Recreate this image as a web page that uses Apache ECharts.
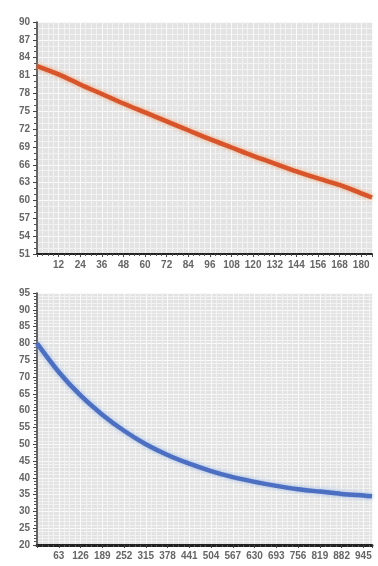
<!DOCTYPE html>
<html>
<head>
<meta charset="utf-8">
<script src="https://cdn.jsdelivr.net/npm/echarts@6/dist/echarts.min.js"></script>
<style>
  html, body { margin: 0; padding: 0; background: #fff; }
  #chart { width: 378px; height: 566px; }
</style>
</head>
<body>
<div id="chart"></div>
<script>
// data
var topX = [0, 12, 24, 36, 48, 60, 72, 84, 96, 108, 120, 132, 144, 156, 168, 180, 186];
var topY = [82.6, 81.2, 79.5, 77.9, 76.3, 74.8, 73.3, 71.8, 70.3, 68.9, 67.5, 66.2, 64.9, 63.7, 62.6, 61.2, 60.5];

var botX = [0, 63, 126, 189, 252, 315, 378, 441, 504, 567, 630, 693, 756, 819, 882, 945, 970];
var botY = [80, 71.5, 64.5, 58.8, 54, 50, 46.8, 44.2, 42, 40.2, 38.8, 37.6, 36.6, 35.9, 35.2, 34.7, 34.5];

function pairs(xs, ys) {
  var out = [];
  for (var i = 0; i < xs.length; i++) {
    out.push([xs[i], ys[i]]);
  }
  return out;
}

// shared axis look
var labelStyle = { color: '#666', fontSize: 10, fontFamily: 'Liberation Sans', fontWeight: 'bold' };

function xAxisOf(grid, max, step, lineW) {
  return {
    type: 'value', gridIndex: grid, min: 0, max: max, interval: step,
    axisLine: { show: true, lineStyle: { color: '#222', width: lineW } },
    axisTick: { show: true, length: 3, lineStyle: { color: '#444' } },
    minorTick: { show: true, splitNumber: 4, length: 2, lineStyle: { color: '#555' } },
    splitLine: { show: true, lineStyle: { color: '#fafafa', width: 1 } },
    minorSplitLine: { show: true, lineStyle: { color: '#f2f2f2', width: 1 } },
    axisLabel: Object.assign({ margin: 6, showMaxLabel: false,
      formatter: function (v) { return v === 0 ? '' : v; } }, labelStyle)
  };
}

function yAxisOf(grid, min, max, step, minor) {
  return {
    type: 'value', gridIndex: grid, min: min, max: max, interval: step,
    axisLine: { show: true, lineStyle: { color: '#333', width: 1.5 } },
    axisTick: { show: true, length: 4, lineStyle: { color: '#444' } },
    minorTick: { show: true, splitNumber: minor, length: 3, lineStyle: { color: '#555' } },
    splitLine: { show: true, lineStyle: { color: '#fafafa', width: 1 } },
    minorSplitLine: { show: true, lineStyle: { color: '#f2f2f2', width: 1 } },
    axisLabel: Object.assign({ margin: 7 }, labelStyle)
  };
}

var option = {
  animation: false,
  grid: [
    { left: 37, top: 22, width: 335, height: 232, show: true, backgroundColor: '#e3e3e3', borderWidth: 0 },
    { left: 37, top: 293, width: 335, height: 252, show: true, backgroundColor: '#e3e3e3', borderWidth: 0 }
  ],
  xAxis: [
    xAxisOf(0, 186, 12, 2),
    xAxisOf(1, 970, 63, 3)
  ],
  yAxis: [
    yAxisOf(0, 51, 90, 3, 3),
    yAxisOf(1, 20, 95, 5, 5)
  ],
  series: [
    {
      type: 'line', xAxisIndex: 0, yAxisIndex: 0, smooth: 0.3, symbol: 'none',
      data: pairs(topX, topY),
      lineStyle: { color: '#d8542a', width: 4.5, shadowColor: 'rgba(240,150,90,0.8)', shadowBlur: 4 }
    },
    {
      type: 'line', xAxisIndex: 1, yAxisIndex: 1, smooth: 0.3, symbol: 'none',
      data: pairs(botX, botY),
      lineStyle: { color: '#4d6fc2', width: 4.5, shadowColor: 'rgba(130,170,230,0.8)', shadowBlur: 4 }
    }
  ]
};

var myChart = echarts.init(document.getElementById('chart'));
myChart.setOption(option);
</script>
</body>
</html>
